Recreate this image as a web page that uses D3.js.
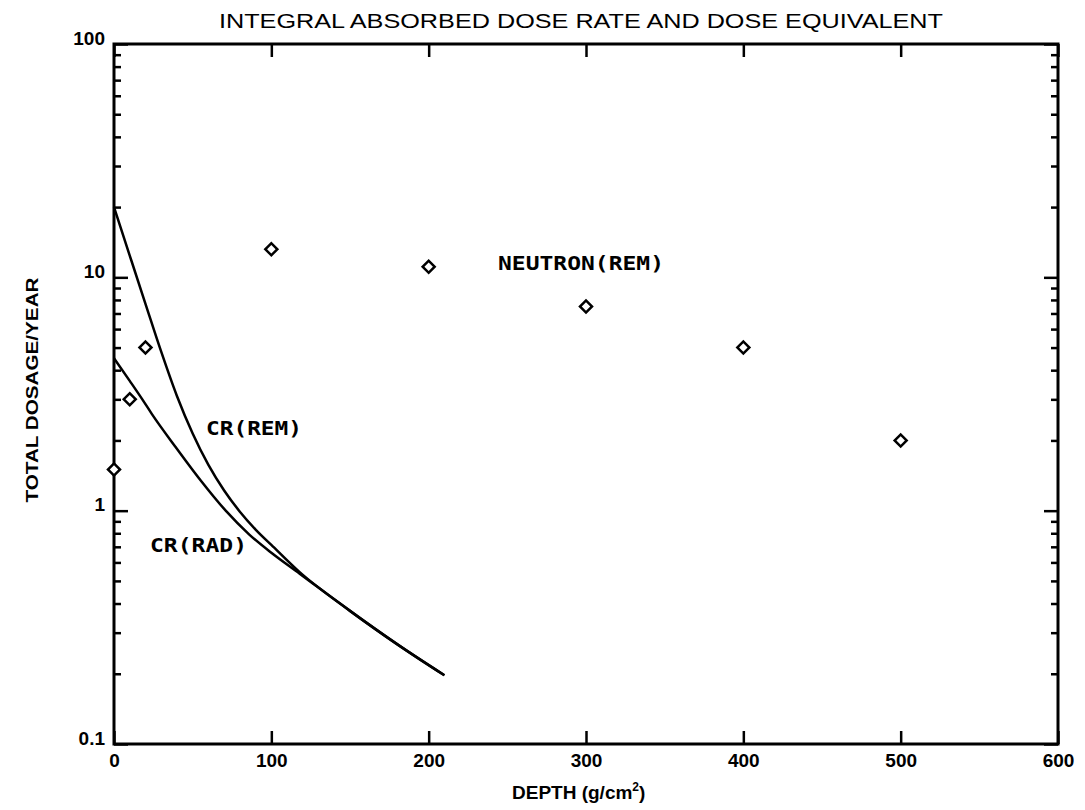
<!DOCTYPE html>
<html>
<head>
<meta charset="utf-8">
<script src="https://cdn.jsdelivr.net/npm/d3@7"></script>
<style>
  html, body { margin: 0; padding: 0; background: #fff; }
  svg { display: block; }
  .axis path, .axis line { stroke: #000; }
  .axis text { fill: #000; }
</style>
</head>
<body>
<svg id="chart" width="1085" height="810"></svg>
<script>
// ---------- data ----------
const neutronDepth = [0, 10, 20, 100, 200, 300, 400, 500];
const neutronRem   = [1.5, 3.0, 5.0, 13.2, 11.1, 7.5, 5.0, 2.0];

const crRemDepth = [0, 10, 20, 30, 40, 50, 60, 70, 80, 90, 100, 118, 150, 182, 210];
const crRemVal   = [20, 12.4, 7.7, 4.8, 3.1, 2.14, 1.57, 1.22, 0.99, 0.83, 0.713, 0.545, 0.372, 0.262, 0.197];

const crRadDepth = [0, 10, 18, 24, 39, 55, 71, 86, 100, 118, 150, 182, 210];
const crRadVal   = [4.5, 3.6, 3.0, 2.6, 1.88, 1.35, 1.0, 0.79, 0.66, 0.537, 0.372, 0.262, 0.197];

const xTicks = [0, 100, 200, 300, 400, 500, 600];
const yMajorTicks = [0.1, 1, 10, 100];
const yMajorLabels = ["0.1", "1", "10", "100"];
const yMinorTicks = [0.2,0.3,0.4,0.5,0.6,0.7,0.8,0.9, 2,3,4,5,6,7,8,9, 20,30,40,50,60,70,80,90];

const titleText = "INTEGRAL ABSORBED DOSE RATE AND DOSE EQUIVALENT";
const xTitle = "DEPTH (g/cm";
const yTitle = "TOTAL DOSAGE/YEAR";

// ---------- scales ----------
const L = 114, R = 1058, T = 44, B = 744;
const x = d3.scaleLinear().domain([0, 600]).range([L, R]);
const y = d3.scaleLog().domain([0.1, 100]).range([B, T]);

const svg = d3.select("#chart");

// ---------- axes ----------
const fontTick = "'Liberation Sans', Arial, sans-serif";

const gB = svg.append("g").attr("class", "axis").attr("transform", `translate(0,${B})`)
  .call(d3.axisBottom(x).tickValues(xTicks).tickSizeInner(-13).tickSizeOuter(0).tickPadding(10));
const gT = svg.append("g").attr("class", "axis").attr("transform", `translate(0,${T})`)
  .call(d3.axisTop(x).tickValues(xTicks).tickSizeInner(-13).tickSizeOuter(0).tickFormat(""));
const gL = svg.append("g").attr("class", "axis").attr("transform", `translate(${L},0)`)
  .call(d3.axisLeft(y).tickValues(yMajorTicks).tickSizeInner(-14).tickSizeOuter(0).tickPadding(9)
        .tickFormat((d, i) => yMajorLabels[i]));
const gLm = svg.append("g").attr("class", "axis").attr("transform", `translate(${L},0)`)
  .call(d3.axisLeft(y).tickValues(yMinorTicks).tickSizeInner(-7).tickSizeOuter(0).tickFormat(""));
const gR = svg.append("g").attr("class", "axis").attr("transform", `translate(${R},0)`)
  .call(d3.axisRight(y).tickValues(yMajorTicks).tickSizeInner(-14).tickSizeOuter(0).tickFormat(""));
const gRm = svg.append("g").attr("class", "axis").attr("transform", `translate(${R},0)`)
  .call(d3.axisRight(y).tickValues(yMinorTicks).tickSizeInner(-7).tickSizeOuter(0).tickFormat(""));

svg.selectAll(".axis path.domain").remove();
svg.selectAll(".axis line").attr("stroke-width", 2.5);
svg.selectAll(".axis text")
  .attr("font-family", fontTick).attr("font-size", 19).attr("font-weight", "bold");
gL.selectAll("text").attr("dy", "0");

// frame
svg.append("rect").attr("x", L).attr("y", T).attr("width", R - L).attr("height", B - T)
  .attr("fill", "none").attr("stroke", "#000").attr("stroke-width", 3);

// ---------- curves ----------
const line = d3.line().x(d => x(d[0])).y(d => y(d[1])).curve(d3.curveMonotoneX);
const remPts = crRemDepth.map((d, i) => [d, crRemVal[i]]);
const radPts = crRadDepth.map((d, i) => [d, crRadVal[i]]);
svg.append("path").attr("d", line(remPts)).attr("fill", "none").attr("stroke", "#000").attr("stroke-width", 2.5);
svg.append("path").attr("d", line(radPts)).attr("fill", "none").attr("stroke", "#000").attr("stroke-width", 2.5);

// ---------- neutron points ----------
const sym = d3.symbol().type(d3.symbolSquare).size(72);
svg.append("g").selectAll("path").data(neutronDepth.map((d, i) => [d, neutronRem[i]]))
  .join("path")
  .attr("d", sym)
  .attr("transform", d => `translate(${x(d[0])},${y(d[1])}) rotate(45)`)
  .attr("fill", "#fff").attr("stroke", "#000").attr("stroke-width", 2.5);

// ---------- labels ----------
const mono = "'DejaVu Sans Mono', 'Liberation Mono', monospace";
function label(txt, xx, yy, len) {
  svg.append("text").attr("x", xx).attr("y", yy).text(txt)
    .attr("font-family", mono).attr("font-weight", "bold").attr("font-size", 19)
    .attr("textLength", len).attr("lengthAdjust", "spacingAndGlyphs").attr("fill", "#000");
}
label("NEUTRON(REM)", 498, 270, 166);
label("CR(REM)", 206, 435, 96);
label("CR(RAD)", 150, 552, 97);

// title
svg.append("text").attr("x", 219).attr("y", 28).text(titleText)
  .attr("font-family", "'Liberation Sans', Arial, sans-serif").attr("font-size", 20)
  .attr("textLength", 724).attr("lengthAdjust", "spacingAndGlyphs").attr("fill", "#000");

// x title
const xt = svg.append("text").attr("x", 512).attr("y", 799)
  .attr("font-family", fontTick).attr("font-size", 19).attr("font-weight", "bold").attr("fill", "#000");
xt.append("tspan").text(xTitle);
xt.append("tspan").text("2").attr("font-size", 12).attr("dy", -8);
xt.append("tspan").text(")").attr("dy", 8);

// y title
svg.append("text").attr("transform", "translate(38,390) rotate(-90)")
  .attr("text-anchor", "middle").text(yTitle)
  .attr("font-family", fontTick).attr("font-size", 17).attr("font-weight", "bold")
  .attr("textLength", 225).attr("lengthAdjust", "spacingAndGlyphs").attr("fill", "#000");
</script>
</body>
</html>
